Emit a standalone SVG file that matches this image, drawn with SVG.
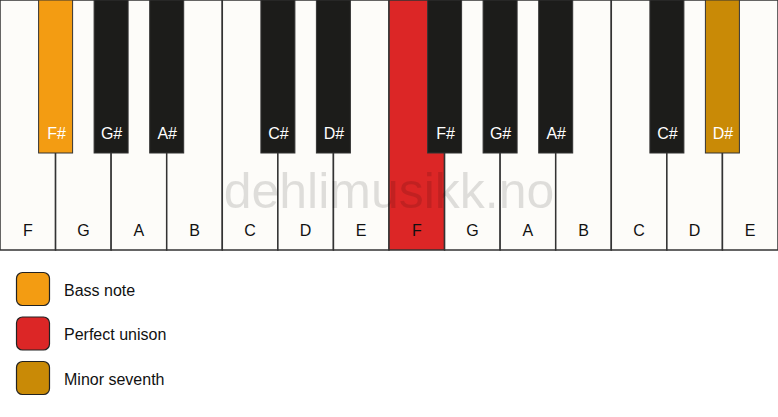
<svg xmlns="http://www.w3.org/2000/svg" width="778" height="417" viewBox="0 0 778 417">
<style>
.w{fill:#fdfcf9;stroke:#333;stroke-width:1.5}
.b{fill:#1c1c1a;stroke:#333;stroke-width:1}
.wl{font-family:"Liberation Sans",Arial,sans-serif;font-size:16px;fill:#111;text-anchor:middle}
.bl{font-family:"Liberation Sans",Arial,sans-serif;font-size:16px;fill:#fff;text-anchor:middle}
.lg{font-family:"Liberation Sans",Arial,sans-serif;font-size:16px;fill:#111}
.sw{stroke:#222;stroke-width:1.2}
</style>
<rect width="778" height="417" fill="#fff"/>
<g id="white-keys">
<g id="wk-F1"><rect class="w" x="0" y="0" width="55.57" height="250"/><text class="wl" x="27.8" y="236">F</text></g>
<g id="wk-G1"><rect class="w" x="55.57" y="0" width="55.57" height="250"/><text class="wl" x="83.4" y="236">G</text></g>
<g id="wk-A1"><rect class="w" x="111.14" y="0" width="55.57" height="250"/><text class="wl" x="138.9" y="236">A</text></g>
<g id="wk-B1"><rect class="w" x="166.71" y="0" width="55.57" height="250"/><text class="wl" x="194.5" y="236">B</text></g>
<g id="wk-C1"><rect class="w" x="222.29" y="0" width="55.57" height="250"/><text class="wl" x="250.1" y="236">C</text></g>
<g id="wk-D1"><rect class="w" x="277.86" y="0" width="55.57" height="250"/><text class="wl" x="305.6" y="236">D</text></g>
<g id="wk-E1"><rect class="w" x="333.43" y="0" width="55.57" height="250"/><text class="wl" x="361.2" y="236">E</text></g>
<g id="wk-F2"><rect class="w" x="389" y="0" width="55.57" height="250" style="fill:#dc2626"/><text class="wl" x="416.8" y="236">F</text></g>
<g id="wk-G2"><rect class="w" x="444.57" y="0" width="55.57" height="250"/><text class="wl" x="472.4" y="236">G</text></g>
<g id="wk-A2"><rect class="w" x="500.14" y="0" width="55.57" height="250"/><text class="wl" x="527.9" y="236">A</text></g>
<g id="wk-B2"><rect class="w" x="555.71" y="0" width="55.57" height="250"/><text class="wl" x="583.5" y="236">B</text></g>
<g id="wk-C2"><rect class="w" x="611.29" y="0" width="55.57" height="250"/><text class="wl" x="639.1" y="236">C</text></g>
<g id="wk-D2"><rect class="w" x="666.86" y="0" width="55.57" height="250"/><text class="wl" x="694.6" y="236">D</text></g>
<g id="wk-E2"><rect class="w" x="722.43" y="0" width="55.57" height="250"/><text class="wl" x="750.2" y="236">E</text></g>
</g>
<g id="black-keys">
<g id="bk-Fs1"><rect class="b" x="38.6" y="0" width="34" height="153" style="fill:#f39c12"/><text class="bl" x="56.6" y="138.5">F#</text></g>
<g id="bk-Gs1"><rect class="b" x="94.1" y="0" width="34" height="153"/><text class="bl" x="111.6" y="138.5">G#</text></g>
<g id="bk-As1"><rect class="b" x="149.7" y="0" width="34" height="153"/><text class="bl" x="167.2" y="138.5">A#</text></g>
<g id="bk-Cs1"><rect class="b" x="260.9" y="0" width="34" height="153"/><text class="bl" x="278.4" y="138.5">C#</text></g>
<g id="bk-Ds1"><rect class="b" x="316.4" y="0" width="34" height="153"/><text class="bl" x="333.9" y="138.5">D#</text></g>
<g id="bk-Fs2"><rect class="b" x="427.6" y="0" width="34" height="153"/><text class="bl" x="445.6" y="138.5">F#</text></g>
<g id="bk-Gs2"><rect class="b" x="483.1" y="0" width="34" height="153"/><text class="bl" x="500.6" y="138.5">G#</text></g>
<g id="bk-As2"><rect class="b" x="538.7" y="0" width="34" height="153"/><text class="bl" x="556.2" y="138.5">A#</text></g>
<g id="bk-Cs2"><rect class="b" x="649.9" y="0" width="34" height="153"/><text class="bl" x="667.4" y="138.5">C#</text></g>
<g id="bk-Ds2"><rect class="b" x="705.4" y="0" width="34" height="153" style="fill:#c98a06"/><text class="bl" x="722.9" y="138.5">D#</text></g>
</g>
<text id="watermark" x="389" y="208" text-anchor="middle" font-family="'Liberation Sans',Arial,sans-serif" font-size="50" fill="#000" fill-opacity="0.12">dehlimusikk.no</text>
<g id="legend">
<g id="lg-bass"><rect class="sw" x="16.5" y="272.5" width="33" height="33" rx="6" fill="#f39c12"/><text class="lg" x="64" y="295.5">Bass note</text></g>
<g id="lg-unison"><rect class="sw" x="16.5" y="317" width="33" height="33" rx="6" fill="#dc2626"/><text class="lg" x="64" y="340">Perfect unison</text></g>
<g id="lg-seventh"><rect class="sw" x="16.5" y="361.5" width="33" height="33" rx="6" fill="#c98a06"/><text class="lg" x="64" y="384.5">Minor seventh</text></g>
</g>
</svg>
